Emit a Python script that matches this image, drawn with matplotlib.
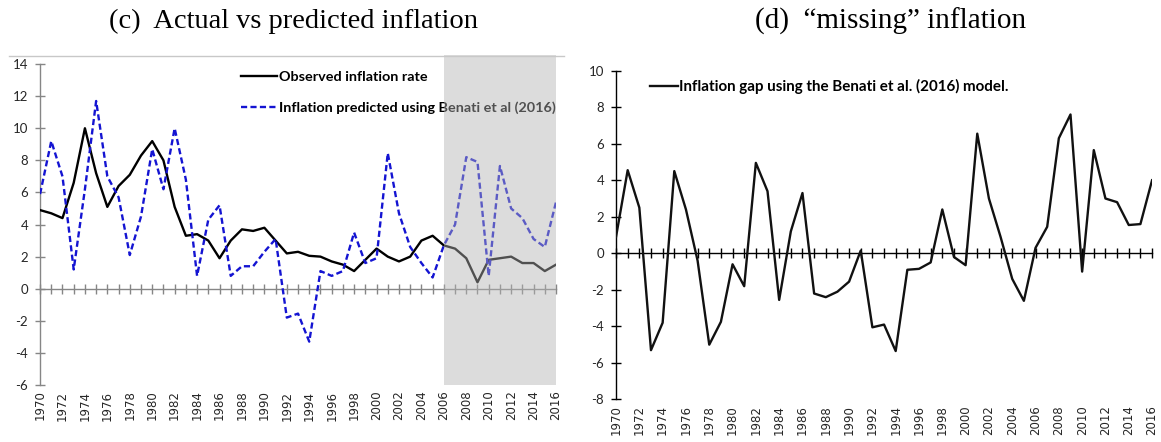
import matplotlib
matplotlib.use("Agg")
import matplotlib.pyplot as plt
from matplotlib.patches import Rectangle
from matplotlib.lines import Line2D
import matplotlib.transforms as mtransforms

plt.rcParams["axes.unicode_minus"] = False

years = list(range(1970, 2017))

observed = [4.9, 4.7, 4.4, 6.6, 10.0, 7.2, 5.1, 6.4, 7.1, 8.3,
            9.2, 8.0, 5.1, 3.3, 3.4, 3.0, 1.9, 3.0, 3.7, 3.6,
            3.8, 3.0, 2.2, 2.3, 2.05, 2.0, 1.7, 1.5, 1.1, 1.8,
            2.5, 2.0, 1.7, 2.0, 3.0, 3.3, 2.7, 2.5, 1.9, 0.4,
            1.8, 1.9, 2.0, 1.6, 1.6, 1.1, 1.5]

predicted = [5.9, 9.2, 7.0, 1.2, 6.2, 11.7, 7.0, 5.7, 2.1, 4.5,
             8.7, 6.2, 10.0, 6.8, 0.8, 4.3, 5.2, 0.8, 1.4, 1.4,
             2.3, 3.1, -1.8, -1.55, -3.3, 1.1, 0.8, 1.1, 3.5, 1.6,
             1.9, 8.45, 4.7, 2.6, 1.6, 0.7, 2.7, 4.0, 8.2, 7.9,
             0.8, 7.65, 5.0, 4.4, 3.1, 2.6, 5.4]

gap = [0.9, 4.55, 2.5, -5.3, -3.8, 4.5, 2.4, -0.4, -5.0, -3.75,
       -0.6, -1.8, 4.95, 3.4, -2.55, 1.2, 3.3, -2.2, -2.4, -2.1,
       -1.55, 0.15, -4.05, -3.9, -5.35, -0.9, -0.85, -0.5, 2.4, -0.2,
       -0.65, 6.55, 3.0, 0.9, -1.4, -2.6, 0.3, 1.45, 6.3, 7.6,
       -1.0, 5.65, 3.0, 2.8, 1.55, 1.6, 4.0]

label_years = list(range(1970, 2017, 2))
shade_start, shade_end = 2006, 2016

title_c = "(c)  Actual vs predicted inflation"
title_d = "(d)  \u201cmissing\u201d inflation"
obs_label = "Observed inflation rate"
pred_label = "Inflation predicted using Benati et al (2016)"
gap_label = "Inflation gap using the Benati et al. (2016) model."

TICK_FONT = "DejaVu Sans"
LEG_FONT = "Lato"
TITLE_FONT = "Liberation Serif"


def style_axes(ax, ylim, yticks, axis_color, zero_frac):
    ax.set_xlim(years[0], years[-1])
    ax.set_ylim(*ylim)
    for s in ["top", "right", "bottom"]:
        ax.spines[s].set_visible(False)
    ax.spines["left"].set_color(axis_color)
    ax.spines["left"].set_linewidth(1.0)
    ax.set_yticks(yticks)
    ax.tick_params(axis="y", direction="inout", length=7, width=1.0,
                   color=axis_color, labelsize=9.5, labelcolor="#262626", pad=5)
    # year labels sit at the bottom, without marks
    ax.set_xticks(label_years)
    ax.set_xticklabels([str(y) for y in label_years], rotation=90,
                       fontsize=8.5, family=TICK_FONT, color="#262626")
    ax.tick_params(axis="x", length=0, pad=4)
    for t in ax.get_yticklabels():
        t.set_family(LEG_FONT)
    # zero line with a tick every year
    sec = ax.secondary_xaxis(zero_frac)
    sec.set_xticks(years)
    sec.set_xticklabels([])
    sec.tick_params(axis="x", direction="inout", length=7, width=1.0,
                    color=axis_color)
    for s in sec.spines.values():
        s.set_color(axis_color)
        s.set_linewidth(1.0)
    return sec


fig = plt.figure(figsize=(11.61, 4.42), dpi=100)

# panel (c)
ax1 = fig.add_axes([0.0345, 0.129, 0.4444, 0.726])
ax1.plot(years, observed, color="black", lw=1.7, label=obs_label, zorder=3)
ax1.plot(years, predicted, color="#1414d2", lw=1.7, dashes=(2.6, 1.4),
         label=pred_label, zorder=3)
style_axes(ax1, (-6, 14), list(range(-6, 15, 2)), "#868686", 6 / 20)

leg1 = ax1.legend(loc="upper left", bbox_to_anchor=(0.39, 0.98), frameon=False,
                  handlelength=2.45, handletextpad=0.15, labelspacing=1.29,
                  borderaxespad=0.0, borderpad=0.0,
                  prop={"family": LEG_FONT, "weight": "bold", "size": 10.4})
leg1.set_zorder(4)

trans = mtransforms.blended_transform_factory(ax1.transData, ax1.transAxes)
shade = Rectangle((shade_start, 0), shade_end - shade_start, 1.027,
                  transform=trans, facecolor=(0.70, 0.70, 0.70), alpha=0.45,
                  edgecolor="none", zorder=6, clip_on=False)
ax1.add_patch(shade)

fig.add_artist(Line2D([0.008, 0.486], [1 - 55.7 / 442] * 2,
                      transform=fig.transFigure, color="#c8c8c8", lw=1.0))

fig.text(0.253, 0.952, title_c, ha="center", va="center",
         family=TITLE_FONT, fontsize=20.5)

# panel (d)
ax2 = fig.add_axes([0.5306, 0.0962, 0.4617, 0.744])
ax2.plot(years, gap, color="#111111", lw=1.7, label=gap_label, zorder=3)
style_axes(ax2, (-8, 10), list(range(-8, 11, 2)), "black", 8 / 18)
ax2.legend(loc="upper left", bbox_to_anchor=(0.064, 0.975), frameon=False,
           handlelength=1.8, handletextpad=0.12, borderaxespad=0.0, borderpad=0.0,
           prop={"family": LEG_FONT, "weight": "bold", "size": 10.9})

fig.text(0.767, 0.952, title_d, ha="center", va="center",
         family=TITLE_FONT, fontsize=21)

fig.savefig("out.png", dpi=100)
